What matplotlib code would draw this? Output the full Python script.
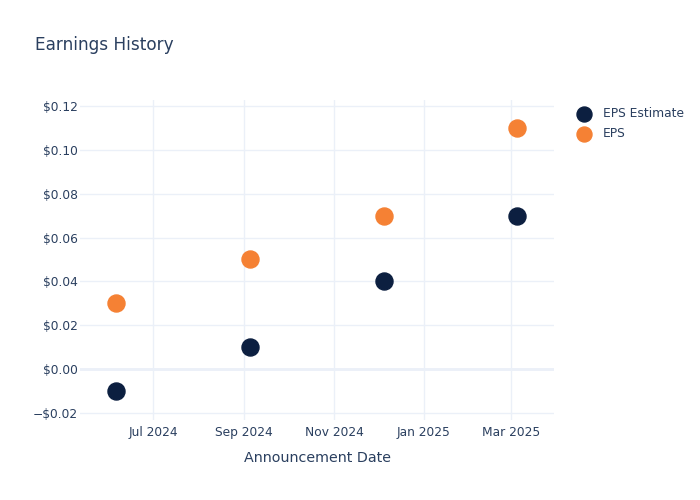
import matplotlib
matplotlib.use('Agg')
from matplotlib import pyplot as plt
import matplotlib.dates as mdates
from matplotlib.ticker import FuncFormatter
import pandas as pd

# data
dates = pd.to_datetime(['2024-06-06', '2024-09-05', '2024-12-05', '2025-03-05'])
eps_estimate = [-0.01, 0.01, 0.04, 0.07]
eps_actual = [0.03, 0.05, 0.07, 0.11]

text_color = '#2a3f5f'
grid_color = '#ebf0f8'

fig = plt.figure(figsize=(7, 5), dpi=100)
ax = fig.add_axes([80 / 700, 80 / 500, 474 / 700, 320 / 500])

ax.scatter(dates, eps_estimate, s=17 ** 2 * 0.52, color='#0c1f40', label='EPS Estimate', zorder=3)
ax.scatter(dates, eps_actual, s=17 ** 2 * 0.52, color='#f58134', label='EPS', zorder=3)

ax.set_xlim(pd.Timestamp('2024-05-12 12:00'), pd.Timestamp('2025-03-30 06:00'))
ax.set_ylim(-0.0232, 0.1227)

ax.xaxis.set_major_locator(mdates.MonthLocator(bymonth=[1, 3, 5, 7, 9, 11]))
ax.xaxis.set_major_formatter(mdates.DateFormatter('%b %Y'))
ax.set_yticks([-0.02, 0, 0.02, 0.04, 0.06, 0.08, 0.10, 0.12])
ax.yaxis.set_major_formatter(FuncFormatter(
    lambda v, p: ('\u2212' if v < -1e-9 else '') + '$%.2f' % abs(v)))

ax.grid(True, color=grid_color, linewidth=1, zorder=0)
ax.axhline(0, color=grid_color, linewidth=2, zorder=1)
for s in ax.spines.values():
    s.set_visible(False)
ax.tick_params(length=0, labelsize=8.8, labelcolor=text_color)
ax.tick_params(axis='y', pad=1.5)
ax.tick_params(axis='x', pad=4)

ax.set_xlabel('Announcement Date', fontsize=10.3, color=text_color, labelpad=9)
fig.text(35 / 700, 1 - 45 / 500, 'Earnings History', fontsize=12.2,
         color=text_color, va='center', ha='left')

leg = ax.legend(loc='upper left', bbox_to_anchor=(572 / 700, 1 - 107 / 500),
                bbox_transform=fig.transFigure, frameon=False, fontsize=8.8,
                labelcolor=text_color, handletextpad=0.55, labelspacing=0.55,
                borderaxespad=0, borderpad=0, markerscale=0.88)

fig.savefig('out.png', dpi=100)
